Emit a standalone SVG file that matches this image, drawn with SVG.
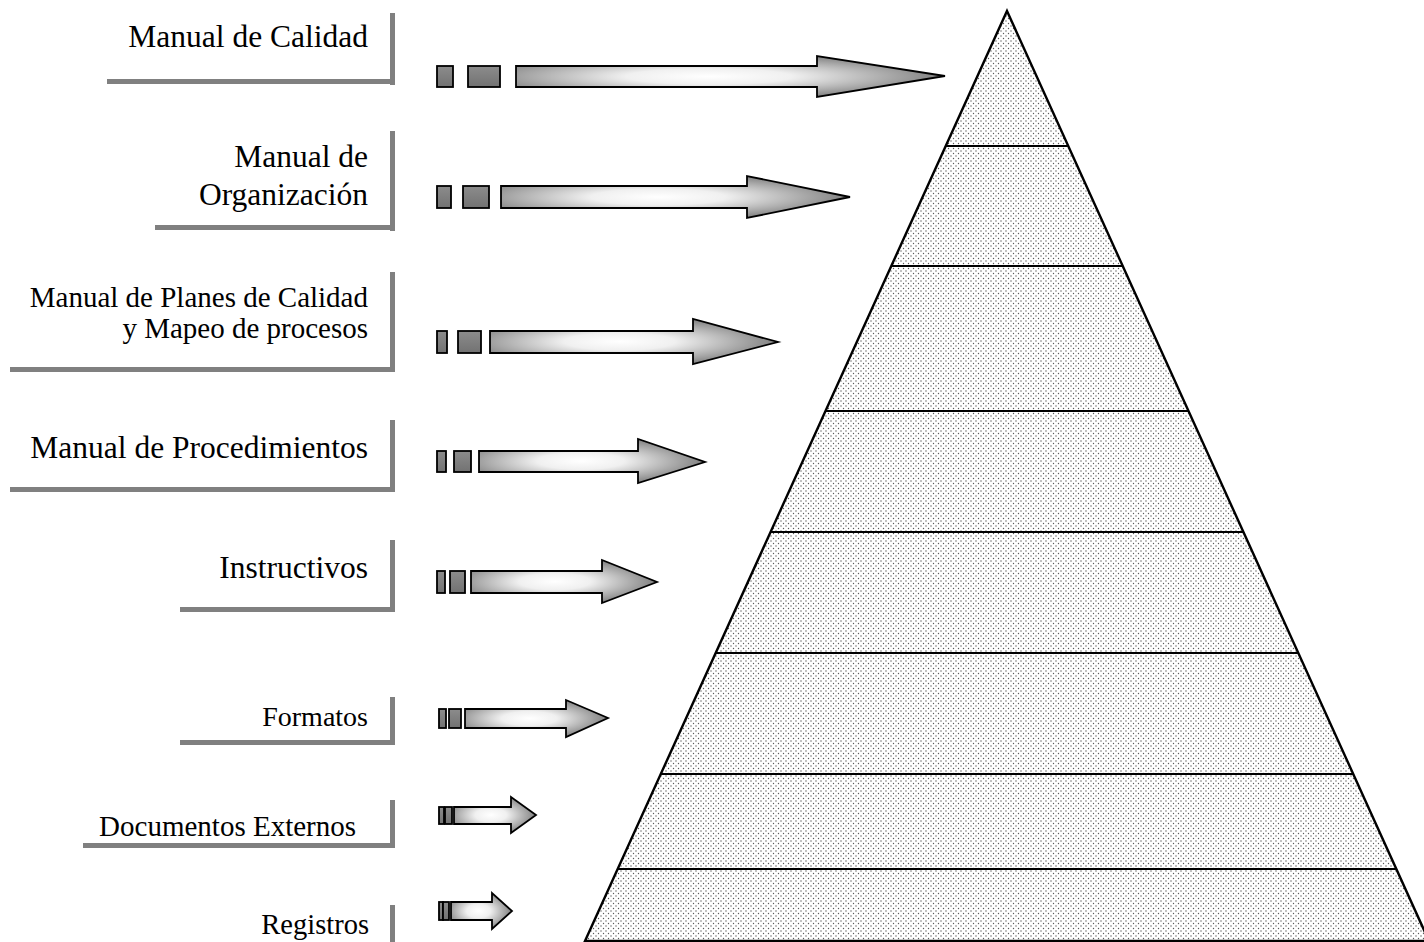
<svg xmlns="http://www.w3.org/2000/svg" width="1424" height="942" viewBox="0 0 1424 942">
  <defs>
    <pattern id="dots" width="5" height="5" patternUnits="userSpaceOnUse">
      <rect width="5" height="5" fill="#ffffff"/>
      <circle cx="1" cy="1" r="0.7" fill="#5a5a5a"/>
      <circle cx="3.5" cy="3.5" r="0.7" fill="#5a5a5a"/>
    </pattern>
    <radialGradient id="arrowFill" cx="0.45" cy="0.5" r="0.55" gradientUnits="objectBoundingBox">
      <stop offset="0" stop-color="#ffffff"/>
      <stop offset="0.35" stop-color="#f0f0f0"/>
      <stop offset="1" stop-color="#808080"/>
    </radialGradient>
    <linearGradient id="blockFill" x1="0" y1="0" x2="0" y2="1">
      <stop offset="0" stop-color="#8c8c8c"/>
      <stop offset="1" stop-color="#727272"/>
    </linearGradient>
  </defs>
  <style>
    .lbl { font-family: "Liberation Serif", "Times New Roman", serif; fill: #000; text-anchor: end; }
    .shadow { fill: #808080; }
    .arrow { fill: url(#arrowFill); stroke: #000; stroke-width: 1.8; stroke-linejoin: miter; }
    .block { fill: url(#blockFill); stroke: #000; stroke-width: 1.8; }
    .tier { fill: none; stroke: #000; stroke-width: 2; }
  </style>

  <rect width="1424" height="942" fill="#ffffff"/>

  <!-- pyramid -->
  <g id="pyramid">
    <path d="M1007,11 L1429,941 L585,941 Z" fill="url(#dots)" stroke="#000" stroke-width="2.4" stroke-linejoin="miter"/>
    <line class="tier" x1="946" y1="146" x2="1068" y2="146"/>
    <line class="tier" x1="891" y1="266" x2="1123" y2="266"/>
    <line class="tier" x1="826" y1="411" x2="1188" y2="411"/>
    <line class="tier" x1="771" y1="532" x2="1243" y2="532"/>
    <line class="tier" x1="716" y1="653" x2="1298" y2="653"/>
    <line class="tier" x1="661" y1="774" x2="1353" y2="774"/>
    <line class="tier" x1="618" y1="869" x2="1396" y2="869"/>
  </g>

  <!-- labels with drop-shadow frames -->
  <g id="label-manual-calidad">
    <rect class="shadow" x="390" y="13" width="5" height="72"/>
    <rect class="shadow" x="107" y="79" width="288" height="5"/>
    <text class="lbl" x="368" y="47" font-size="31.5">Manual de Calidad</text>
  </g>
  <g id="label-manual-organizacion">
    <rect class="shadow" x="390" y="131" width="5" height="100"/>
    <rect class="shadow" x="155" y="225" width="240" height="5"/>
    <text class="lbl" x="368" y="167" font-size="31.5">Manual de</text>
    <text class="lbl" x="368" y="205" font-size="31.5">Organización</text>
  </g>
  <g id="label-planes-calidad">
    <rect class="shadow" x="390" y="272" width="5" height="100"/>
    <rect class="shadow" x="10" y="367" width="385" height="5"/>
    <text class="lbl" x="368" y="307" font-size="29">Manual de Planes de Calidad</text>
    <text class="lbl" x="368" y="338" font-size="29">y Mapeo de procesos</text>
  </g>
  <g id="label-procedimientos">
    <rect class="shadow" x="390" y="420" width="5" height="72"/>
    <rect class="shadow" x="10" y="487" width="385" height="5"/>
    <text class="lbl" x="368" y="458" font-size="31.5">Manual de Procedimientos</text>
  </g>
  <g id="label-instructivos">
    <rect class="shadow" x="390" y="540" width="5" height="72"/>
    <rect class="shadow" x="180" y="607" width="215" height="5"/>
    <text class="lbl" x="368" y="578" font-size="31.5">Instructivos</text>
  </g>
  <g id="label-formatos">
    <rect class="shadow" x="390" y="697" width="5" height="48"/>
    <rect class="shadow" x="180" y="740" width="215" height="5"/>
    <text class="lbl" x="368" y="726" font-size="28">Formatos</text>
  </g>
  <g id="label-documentos-externos">
    <rect class="shadow" x="390" y="800" width="5" height="48"/>
    <rect class="shadow" x="83" y="843" width="312" height="5"/>
    <text class="lbl" x="356" y="836" font-size="29">Documentos Externos</text>
  </g>
  <g id="label-registros">
    <rect class="shadow" x="390" y="905" width="5" height="37"/>
    <text class="lbl" x="369" y="934" font-size="28.5">Registros</text>
  </g>

  <!-- connectors: dashed block arrows pointing at the pyramid tiers -->
  <g id="connectors">
    <g id="arrow-1">
      <rect class="block" x="437" y="66" width="16" height="21"/>
      <rect class="block" x="468" y="66" width="32" height="21"/>
      <path class="arrow" d="M516,66 H817 V56 L945,76 L817,97 V87 H516 Z"/>
    </g>
    <g id="arrow-2">
      <rect class="block" x="437" y="186" width="14" height="22"/>
      <rect class="block" x="463" y="186" width="26" height="22"/>
      <path class="arrow" d="M501,186 H747 V176 L850,197 L747,218 V208 H501 Z"/>
    </g>
    <g id="arrow-3">
      <rect class="block" x="437" y="331" width="10" height="22"/>
      <rect class="block" x="458" y="331" width="23" height="22"/>
      <path class="arrow" d="M490,331 H693 V319 L778,342 L693,364 V353 H490 Z"/>
    </g>
    <g id="arrow-4">
      <rect class="block" x="437" y="451" width="9" height="21"/>
      <rect class="block" x="454" y="451" width="17" height="21"/>
      <path class="arrow" d="M479,451 H638 V439 L705,462 L638,483 V472 H479 Z"/>
    </g>
    <g id="arrow-5">
      <rect class="block" x="437" y="571" width="8" height="22"/>
      <rect class="block" x="450" y="571" width="15" height="22"/>
      <path class="arrow" d="M471,571 H602 V560 L657,582 L602,603 V593 H471 Z"/>
    </g>
    <g id="arrow-6">
      <rect class="block" x="439" y="709" width="7" height="19"/>
      <rect class="block" x="449" y="709" width="12" height="19"/>
      <path class="arrow" d="M465,709 H566 V700 L608,718 L566,737 V728 H465 Z"/>
    </g>
    <g id="arrow-7">
      <rect class="block" x="439" y="807" width="5" height="17"/>
      <rect class="block" x="445" y="807" width="7" height="17"/>
      <path class="arrow" d="M454,807 H511 V797 L536,815 L511,833 V824 H454 Z"/>
    </g>
    <g id="arrow-8">
      <rect class="block" x="439" y="902" width="4" height="18"/>
      <rect class="block" x="443" y="902" width="6" height="18"/>
      <path class="arrow" d="M451,902 H492 V893 L512,911 L492,929 V920 H451 Z"/>
    </g>
  </g>
</svg>
